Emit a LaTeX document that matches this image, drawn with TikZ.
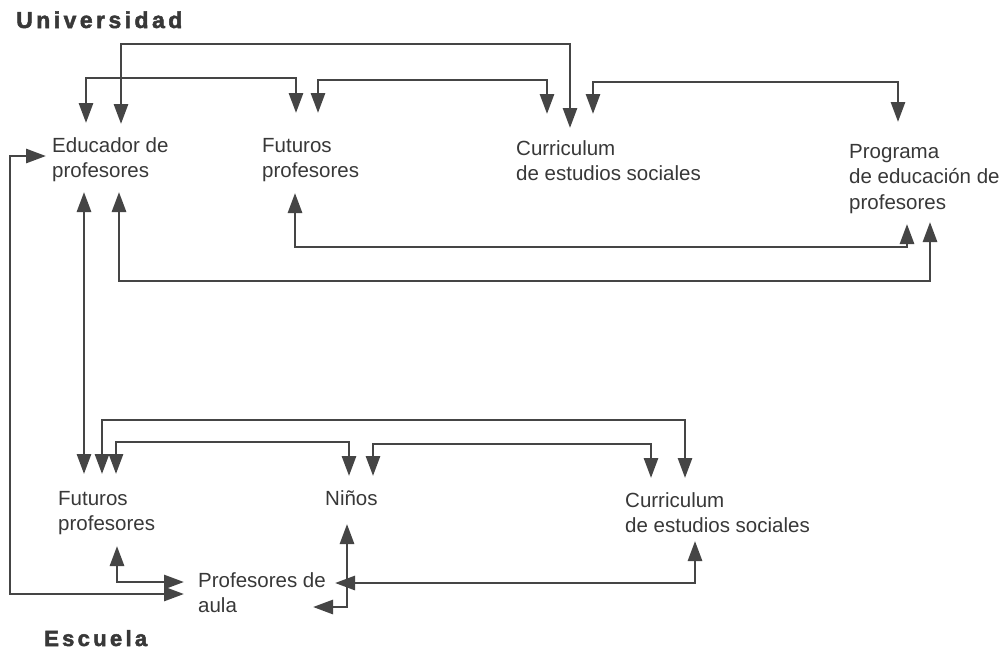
\documentclass[tikz,border=0pt]{standalone}
\usepackage{fontspec}
\setmainfont{Liberation Sans}
\newfontfamily\titlefont[LetterSpace=15,FakeBold=2.2]{Liberation Sans Bold}
\usetikzlibrary{arrows.meta}
\definecolor{ink}{HTML}{383838}
\definecolor{wire}{HTML}{454545}
\newcommand{\lns}[1]{\begin{tabular}[t]{@{}l@{}}#1\end{tabular}}
\begin{document}
\begin{tikzpicture}[x=1pt,y=-1pt,
  lbl/.style={anchor=base west, inner sep=0pt, text=ink, font=\fontsize{20.5}{25.5}\selectfont},
  ttl/.style={anchor=base west, inner sep=0pt, text=ink, font=\titlefont\fontsize{23}{27}\selectfont},
  tip/.tip={Triangle[length=20pt,width=14pt]},
  link/.style={draw=wire, line width=2.8pt, tip-tip, line join=miter},
]
\fill[white] (0,0) rectangle (999,651);
\useasboundingbox (0,0) rectangle (999,651);

% titles
\node[ttl] (univ) at (16,28) {Universidad};
\node[ttl, font=\titlefont\fontsize{22}{26}\selectfont] (esc) at (44,646) {Escuela};

% labels
\node[lbl] (edu)  at (52,152)  {\lns{Educador de\\profesores}};
\node[lbl] (futU) at (262,152) {\lns{Futuros\\profesores}};
\node[lbl] (curU) at (516,155) {\lns{Curriculum\\de estudios sociales}};
\node[lbl] (prog) at (849,158) {\lns{Programa\\de educación de\\profesores}};
\node[lbl] (futB) at (58,505)  {\lns{Futuros\\profesores}};
\node[lbl] (nin)  at (325,505) {Niños};
\node[lbl] (curB) at (625,507) {\lns{Curriculum\\de estudios sociales}};
\node[lbl] (prof) at (198,587) {\lns{Profesores de\\aula}};

% arrow tip points
\coordinate (e1) at (86,123);
\coordinate (e2) at (121,124);
\coordinate (e3) at (84,192);
\coordinate (e4) at (119,192);
\coordinate (e5) at (46,156);
\coordinate (f1) at (296,113);
\coordinate (f2) at (318,113);
\coordinate (f3) at (295,193);
\coordinate (c1) at (547,114);
\coordinate (c2) at (570,128);
\coordinate (c3) at (593,114);
\coordinate (p1) at (898,122);
\coordinate (p2) at (907,224);
\coordinate (p3) at (930,222);
\coordinate (g1) at (84,474);
\coordinate (g2) at (102,474);
\coordinate (g3) at (116,474);
\coordinate (g4) at (117,546);
\coordinate (n1) at (349,476);
\coordinate (n2) at (373,476);
\coordinate (n3) at (347,524);
\coordinate (d1) at (651,478);
\coordinate (d2) at (685,478);
\coordinate (d3) at (695,541);
\coordinate (q1) at (184,582);
\coordinate (q2) at (184,594);
\coordinate (q3) at (335,583);
\coordinate (q4) at (313,607);

% university connectors
\draw[link] (e2) -- (e2 |- 0,44) -| (c2);
\draw[link] (e1) -- (e1 |- 0,78) -| (f1);
\draw[link] (f2) -- (f2 |- 0,80) -| (c1);
\draw[link] (c3) -- (c3 |- 0,82) -| (p1);
\draw[link] (e4) -- (e4 |- 0,281) -| (p3);
\draw[link] (f3) -- (f3 |- 0,247) -| (p2);

% university <-> school
\draw[link] (e3) -- (g1);
\draw[link] (e5) -| (10,594) -- (q2);

% school connectors
\draw[link] (g2) -- (g2 |- 0,420) -| (d2);
\draw[link] (g3) -- (g3 |- 0,442) -| (n1);
\draw[link] (n2) -- (n2 |- 0,444) -| (d1);
\draw[link] (g4) |- (q1);
\draw[link] (n3) |- (q4);
\draw[link] (d3) |- (q3);
\end{tikzpicture}
\end{document}
